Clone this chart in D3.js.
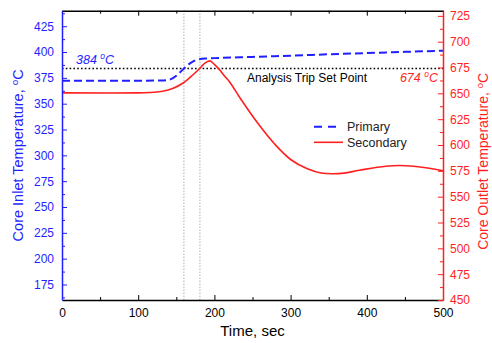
<!DOCTYPE html>
<html><head><meta charset="utf-8">
<script src="https://cdn.jsdelivr.net/npm/d3@7"></script>
<style>
body{margin:0;background:#fff;}
text{font-family:"Liberation Sans",Arial,sans-serif;}
</style></head>
<body><svg id="c" width="492" height="343"></svg>
<script>
// ---- data ----
const primaryTime  = [0, 100, 130, 140, 150, 155, 160, 165, 170, 175, 180, 190, 200, 250, 300, 350, 400, 450, 500];
const primaryTemp  = [372.3, 372.3, 372.4, 373, 377, 380.5, 384, 387.5, 390, 392, 393, 393.8, 394.1, 395.3, 396.5, 397.8, 399, 400.2, 401.3];
const secondaryTime = [0, 100, 120, 132, 146, 159, 172, 181, 187, 194, 200, 207, 213, 220, 235, 257, 279, 300, 322, 340, 355, 370, 390, 425, 451, 482, 500];
const secondaryTemp = [650.5, 650.5, 651, 652, 655, 660, 668, 674.3, 679, 681.4, 678, 672.6, 667, 661, 644, 621, 601, 586, 577, 572.9, 572.2, 572.8, 575.5, 579.5, 580, 577.5, 575];
const xTicks = [0, 100, 200, 300, 400, 500];
const xMinor = [50, 150, 250, 350, 450];
const leftTicks = [175, 200, 225, 250, 275, 300, 325, 350, 375, 400, 425];
const leftMinor = [162.5, 187.5, 212.5, 237.5, 262.5, 287.5, 312.5, 337.5, 362.5, 387.5, 412.5, 437.5];
const rightTicks = [450, 475, 500, 525, 550, 575, 600, 625, 650, 675, 700, 725];
const rightMinor = [462.5, 487.5, 512.5, 537.5, 562.5, 587.5, 612.5, 637.5, 662.5, 687.5, 712.5];
const tripInlet = 384, tripOutlet = 674;
const tripTimes = [160, 181];
const seriesNames = ["Primary", "Secondary"];

const BLUE = "#1f1fff", RED = "#ff1f1f";
const svg = d3.select("#c");
const L = 62, R = 443, T = 10.7, B = 300;
const x = d3.scaleLinear().domain([0, 500]).range([L, R]);
const yL = d3.scaleLinear().domain([160, 440]).range([B, T]);
const yR = d3.scaleLinear().domain([450, 730]).range([B, T]);

// vertical dotted lines
svg.selectAll(".vl").data(tripTimes).enter().append("line")
  .attr("x1", d => x(d)).attr("x2", d => x(d)).attr("y1", T).attr("y2", B)
  .attr("stroke", "#888").attr("stroke-width", 1).attr("stroke-dasharray", "1,2");

// trip set point line
svg.append("line").attr("x1", L).attr("x2", R).attr("y1", yL(tripInlet)).attr("y2", yL(tripInlet))
  .attr("stroke", "#000").attr("stroke-width", 1.6).attr("stroke-dasharray", "1.6,2.2");

// series
const pData = primaryTime.map((t, i) => [t, primaryTemp[i]]);
const sData = secondaryTime.map((t, i) => [t, secondaryTemp[i]]);
svg.append("path").datum(sData)
  .attr("d", d3.line().x(d => x(d[0])).y(d => yR(d[1])).curve(d3.curveCatmullRom.alpha(0.5)))
  .attr("fill", "none").attr("stroke", RED).attr("stroke-width", 1.6);
svg.append("path").datum(pData)
  .attr("d", d3.line().x(d => x(d[0])).y(d => yL(d[1])).curve(d3.curveMonotoneX))
  .attr("fill", "none").attr("stroke", BLUE).attr("stroke-width", 2).attr("stroke-dasharray", "8,4");

// axes
function styleAxis(g, color) {
  g.selectAll("path,line").attr("stroke", color);
  g.selectAll("text").attr("fill", color).style("font-size", "12px")
    .style("font-family", '"Liberation Sans",Arial,sans-serif');
}
const gx = svg.append("g").attr("transform", `translate(0,${B})`)
  .call(d3.axisBottom(x).tickValues(xTicks).tickSizeInner(-5).tickSizeOuter(0).tickPadding(8));
styleAxis(gx, "#000"); gx.select("path").attr("stroke-width", 1.5);
const gxm = svg.append("g").attr("transform", `translate(0,${B})`)
  .call(d3.axisBottom(x).tickValues(xMinor).tickSize(-3).tickFormat(""));
gxm.select("path").remove(); gxm.selectAll("line").attr("stroke", "#000");
const gt = svg.append("g").attr("transform", `translate(0,${T})`)
  .call(d3.axisTop(x).tickValues(xTicks).tickSizeInner(-5).tickSizeOuter(0).tickFormat(""));
styleAxis(gt, "#000"); gt.select("path").attr("stroke-width", 1.5);
const gtm = svg.append("g").attr("transform", `translate(0,${T})`)
  .call(d3.axisTop(x).tickValues(xMinor).tickSize(-3).tickFormat(""));
gtm.select("path").remove(); gtm.selectAll("line").attr("stroke", "#000");

const gl = svg.append("g").attr("transform", `translate(${L},0)`)
  .call(d3.axisLeft(yL).tickValues(leftTicks).tickSizeInner(-5).tickSizeOuter(0).tickPadding(8));
styleAxis(gl, BLUE); gl.select("path").attr("stroke-width", 1.5);
const glm = svg.append("g").attr("transform", `translate(${L},0)`)
  .call(d3.axisLeft(yL).tickValues(leftMinor).tickSize(-3).tickFormat(""));
glm.select("path").remove(); glm.selectAll("line").attr("stroke", BLUE);

const gr = svg.append("g").attr("transform", `translate(${R},0)`)
  .call(d3.axisRight(yR).tickValues(rightTicks).tickSizeInner(-5).tickSizeOuter(0).tickPadding(7));
styleAxis(gr, RED); gr.select("path").attr("stroke-width", 1.5);
const grm = svg.append("g").attr("transform", `translate(${R},0)`)
  .call(d3.axisRight(yR).tickValues(rightMinor).tickSize(-3).tickFormat(""));
grm.select("path").remove(); grm.selectAll("line").attr("stroke", RED);

// titles
function degTitle(sel, base) {
  sel.append("tspan").text(base);
  sel.append("tspan").text("o").attr("font-size", "0.68em").attr("dy", "-5");
  sel.append("tspan").text("C").attr("dy", "5");
}
svg.append("text").attr("x", x(250)).attr("y", 336).attr("text-anchor", "middle")
  .style("font-size", "15px").attr("fill", "#000").text("Time, sec");
const tl = svg.append("text").attr("transform", `translate(23,${(T + B) / 2}) rotate(-90)`)
  .attr("text-anchor", "middle").style("font-size", "14.5px").attr("fill", BLUE);
degTitle(tl, "Core Inlet Temperature, ");
const tr = svg.append("text").attr("transform", `translate(488,${(T + B) / 2 + 6}) rotate(-90)`)
  .attr("text-anchor", "middle").style("font-size", "14px").attr("fill", RED);
degTitle(tr, "Core Outlet Temperature, ");

// annotations
const a1 = svg.append("text").attr("x", 76).attr("y", 64).style("font-size", "12.5px")
  .style("font-style", "italic").attr("fill", BLUE);
degTitle(a1, tripInlet + " ");
const a2 = svg.append("text").attr("x", 438).attr("y", 81.7).attr("text-anchor", "end")
  .style("font-size", "12.5px").style("font-style", "italic").attr("fill", RED);
degTitle(a2, tripOutlet + " ");
svg.append("text").attr("x", 247).attr("y", 81.7).style("font-size", "12px").attr("fill", "#000")
  .text("Analysis Trip Set Point");

// legend
const lg = svg.append("g");
lg.append("line").attr("x1", 314).attr("x2", 337).attr("y1", 126.7).attr("y2", 126.7)
  .attr("stroke", BLUE).attr("stroke-width", 2).attr("stroke-dasharray", "8,6");
lg.append("line").attr("x1", 314).attr("x2", 343).attr("y1", 142.3).attr("y2", 142.3)
  .attr("stroke", RED).attr("stroke-width", 1.6);
lg.append("text").attr("x", 347).attr("y", 131).style("font-size", "12.5px").attr("fill", "#222").text(seriesNames[0]);
lg.append("text").attr("x", 347).attr("y", 147).style("font-size", "12.5px").attr("fill", "#222").text(seriesNames[1]);
</script></body></html>
